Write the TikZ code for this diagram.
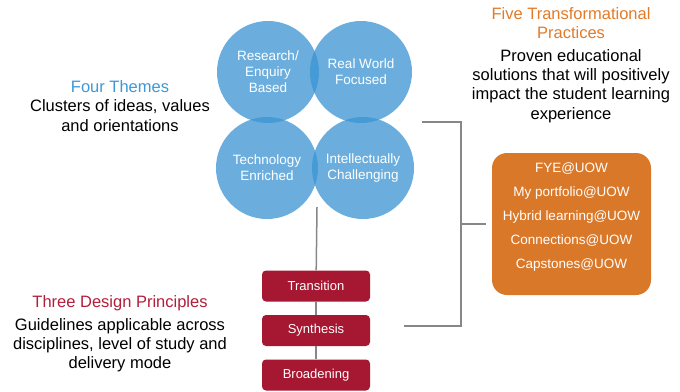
\documentclass[tikz,border=0pt]{standalone}
\usepackage{fontspec}
\setmainfont{Liberation Sans}
\usetikzlibrary{shapes,positioning}

\definecolor{themeblue}{RGB}{58,147,210}
\definecolor{themetitle}{RGB}{62,152,214}
\definecolor{practiceorange}{RGB}{218,120,42}
\definecolor{practicetitle}{RGB}{226,122,40}
\definecolor{principlered}{RGB}{166,24,50}
\definecolor{principletitle}{RGB}{178,30,60}
\definecolor{linkgray}{RGB}{135,135,135}

\begin{document}
\begin{tikzpicture}[x=1pt,y=-1pt]
	\tikzstyle{theme} = [circle, fill=themeblue, fill opacity=0.75, text opacity=1, text=white, minimum size=102pt, inner sep=0pt, align=center, font=\fontsize{13.5}{16}\selectfont]
	\tikzstyle{principle} = [fill=principlered, rounded corners=4pt, minimum width=108pt, minimum height=31pt, text=white, font=\fontsize{13}{15}\selectfont]
	\tikzstyle{practicebox} = [fill=practiceorange, rounded corners=15pt, minimum width=159pt, minimum height=142pt]
	\tikzstyle{practicelist} = [text=white, align=center, inner sep=0pt, font=\fontsize{13.5}{24}\selectfont]
	\tikzstyle{caption} = [align=center, font=\fontsize{16.5}{19.3}\selectfont]
	\tikzstyle{link} = [draw=linkgray, line width=1.5pt]
	\useasboundingbox (0,0) rectangle (680,391);
	%Captions
	\node [caption] (themesnote) at (120,106) {\textcolor{themetitle}{Four Themes}\\Clusters of ideas, values\\and orientations};
	\node [caption] (practicesnote) at (571,65) {\textcolor{practicetitle}{Five Transformational}\\\textcolor{practicetitle}{Practices}\\[3pt]Proven educational\\solutions that will positively\\impact the student learning\\experience};
	\node [caption] (principlesnote) at (120,334) {\textcolor{principletitle}{Three Design Principles}\\[3pt]Guidelines applicable across\\disciplines, level of study and\\delivery mode};
	%Connecting lines (behind the blocks)
	\coordinate (themesfoot) at (317,207);
	\coordinate (bracketTop) at (422,122);
	\coordinate (bracketBottom) at (404,326);
	\coordinate (spine) at (461,224);
	%Principle blocks
	\node [principle] (transition) at (316,286) {Transition};
	\node [principle] (synthesis) at (316,330.5) {Synthesis};
	\node [principle] (broadening) at (316,375) {Broadening};
	\begin{scope}[link]
	\draw (themesfoot) -- (transition);
	\draw (transition) -- (synthesis);
	\draw (synthesis) -- (broadening);
	\draw (bracketTop) -| (spine) |- (bracketBottom);
	\end{scope}
	%Theme circles
	\node [theme] (research) at (268,72) {Research/\\Enquiry\\Based};
	\node [theme] (realworld) at (361,72) {Real World\\Focused};
	\node [theme] (technology) at (267,168) {Technology\\Enriched};
	\node [theme] (intellect) at (363,168) {Intellectually\\Challenging};
	%Practices box
	\node [practicebox] (practices) at (571.5,224) {};
	\node [practicelist, below=9.5pt of practices.north] (practicelist) {FYE@UOW\\My portfolio@UOW\\Hybrid learning@UOW\\Connections@UOW\\Capstones@UOW};
	\draw [link, shorten >=6pt] (spine) -- (practices.west);
\end{tikzpicture}
\end{document}
